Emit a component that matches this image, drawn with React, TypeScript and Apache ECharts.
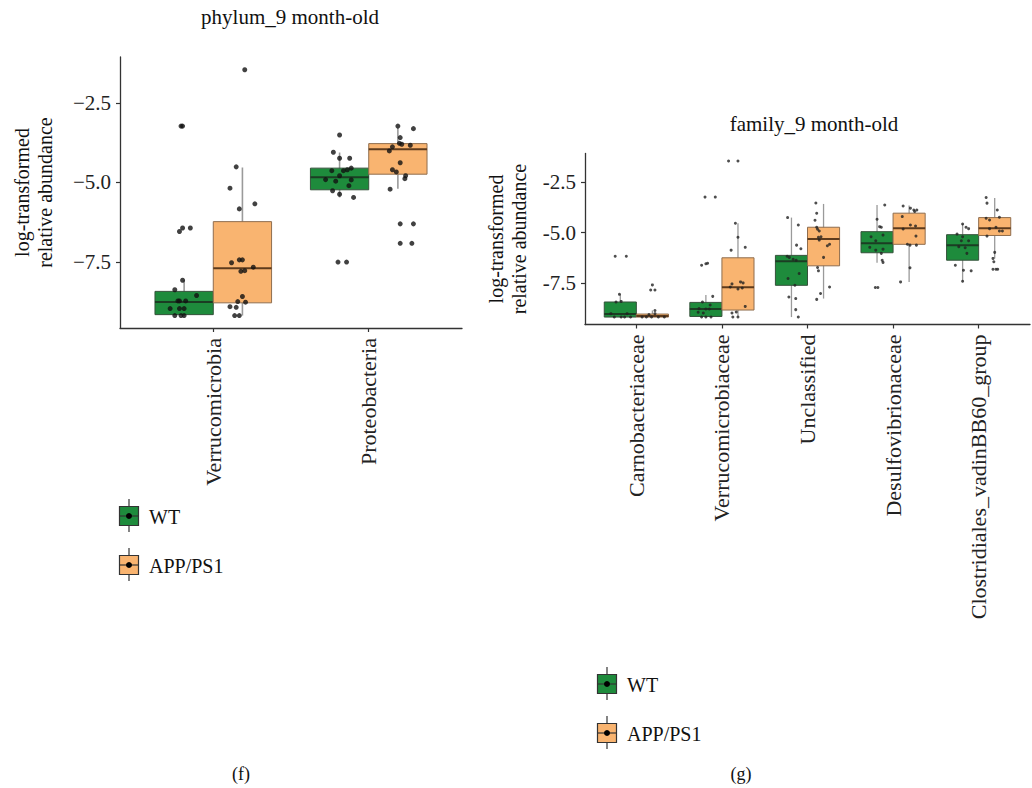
import React, { useEffect, useRef } from "react";
import * as echarts from "echarts";

// ---------- DATA ----------
const LEFT_TITLE = "phylum_9 month-old";
const RIGHT_TITLE = "family_9 month-old";
const Y_NAME = "log-transformed\nrelative abundance";
const GROUPS = ["WT", "APP/PS1"];

const LEFT_CATS = ["Verrucomicrobia", "Proteobacteria"];
const RIGHT_CATS = [
  "Carnobacteriaceae",
  "Verrucomicrobiaceae",
  "Unclassified",
  "Desulfovibrionaceae",
  "Clostridiales_vadinBB60_group",
];
const Y_TICKS = [-7.5, -5.0, -2.5];

// box stats: [low whisker, q1, median, q3, high whisker]
const LEFT_WT_BOX = [
  [-9.2, -9.15, -8.75, -8.42, -8.07],
  [-5.47, -5.23, -4.84, -4.55, -4.06],
];
const LEFT_APP_BOX = [
  [-9.18, -8.78, -7.69, -6.23, -4.53],
  [-5.2, -4.74, -3.96, -3.78, -3.28],
];
const RIGHT_WT_BOX = [
  [-9.2, -9.2, -9.05, -8.45, -8.07],
  [-9.2, -9.17, -8.8, -8.47, -8.1],
  [-9.2, -7.62, -6.42, -6.13, -4.25],
  [-6.5, -6.0, -5.53, -4.95, -3.62],
  [-7.42, -6.37, -5.62, -5.1, -4.57],
];
const RIGHT_APP_BOX = [
  [-9.2, -9.2, -9.15, -9.05, -8.87],
  [-9.18, -8.85, -7.72, -6.25, -4.53],
  [-8.28, -6.65, -5.32, -4.73, -3.57],
  [-7.45, -5.58, -4.78, -4.03, -3.65],
  [-6.28, -5.14, -4.78, -4.25, -3.28],
];

// jittered points: [offset within box, value]
const LEFT_WT_PTS = [
  [[-0.02, -3.23], [-0.01, -3.23], [-0.03, -6.54], [-0.01, -6.43], [0.04, -6.43], [-0.01, -8.07], [-0.06, -8.37], [0.08, -8.55], [-0.04, -8.72], [-0.03, -8.72], [0.01, -8.72], [-0.09, -8.96], [-0.03, -8.96], [0.0, -8.96], [-0.06, -9.18], [-0.02, -9.18], [0.0, -9.18]],
  [[0, -3.51], [-0.04, -4.05], [0, -4.24], [0.065, -4.24], [-0.05, -4.63], [0.025, -4.63], [0.05, -4.6], [0.075, -4.55], [-0.09, -4.91], [-0.025, -4.96], [0.075, -4.92], [0, -4.79], [0.06, -5.1], [-0.045, -5.26], [0, -5.37], [0.09, -5.47], [-0.01, -7.5], [0.045, -7.5]],
];
const LEFT_APP_PTS = [
  [[0.015, -1.46], [-0.04, -4.51], [-0.08, -5.18], [0.08, -5.67], [-0.02, -5.83], [-0.07, -7.52], [-0.02, -7.43], [0, -7.43], [0.07, -7.66], [-0.01, -7.79], [0.015, -7.77], [0, -8.58], [-0.03, -8.74], [0.02, -8.76], [-0.08, -8.9], [-0.04, -8.92], [-0.05, -9.18], [-0.02, -9.18]],
  [[0, -3.23], [0.1, -3.31], [0.015, -3.59], [0.01, -3.77], [0.025, -3.8], [-0.055, -4.01], [-0.035, -3.88], [0.08, -3.83], [0.015, -4.38], [-0.035, -4.6], [-0.01, -4.67], [0.05, -4.79], [0.045, -4.88], [-0.05, -5.21], [0.015, -6.3], [0.1, -6.3], [0.015, -6.91], [0.09, -6.91]],
];
const RIGHT_WT_PTS = [
  [[-0.06, -6.17], [0.07, -6.17], [-0.01, -8.07], [-0.05, -8.45], [0.01, -8.42], [-0.11, -9.03], [0.08, -9.03], [-0.07, -9.2], [0.01, -9.2], [0.05, -9.2], [0.12, -9.2]],
  [[-0.01, -3.23], [0.11, -3.23], [-0.05, -6.62], [0, -6.55], [0.02, -6.52], [0.08, -8.17], [-0.04, -8.45], [0.05, -8.6], [-0.08, -8.78], [0.0, -8.8], [0.04, -8.8], [-0.09, -8.96], [-0.03, -9.0], [-0.05, -9.2], [0.0, -9.2], [0.06, -9.2]],
  [[-0.045, -4.25], [0.08, -4.62], [0.06, -5.62], [0.11, -5.8], [-0.05, -6.17], [-0.025, -6.23], [0.02, -6.32], [0.055, -6.37], [-0.04, -7.28], [0.09, -7.03], [0.04, -7.62], [-0.03, -8.2], [0.05, -8.28], [0.05, -8.83], [0.08, -9.2]],
  [[0.09, -3.62], [0, -4.33], [0.03, -4.7], [0.05, -4.73], [-0.07, -5.2], [-0.015, -5.4], [0.07, -5.12], [-0.085, -5.73], [-0.015, -5.87], [0.07, -5.82], [0.05, -6.03], [0.06, -6.37], [0.07, -6.48], [-0.02, -7.73], [0.01, -7.73]],
  [[0, -4.57], [0.04, -4.73], [0.07, -4.8], [-0.065, -5.07], [0, -5.2], [-0.015, -5.4], [0.07, -5.4], [-0.045, -5.7], [0.03, -5.75], [0.05, -6.03], [-0.085, -6.62], [0.01, -6.87], [0.1, -6.9], [0, -7.42]],
];
const RIGHT_APP_PTS = [
  [[0, -7.6], [-0.02, -7.85], [0.03, -7.85], [0.03, -8.87], [0.03, -9.03], [-0.04, -9.07], [-0.12, -9.2], [-0.07, -9.2], [-0.01, -9.2], [0.07, -9.2], [0.14, -9.2]],
  [[-0.11, -1.43], [0, -1.43], [-0.03, -4.53], [0, -5.23], [-0.08, -5.87], [0.085, -5.73], [-0.07, -7.55], [0.03, -7.45], [0.06, -7.5], [-0.09, -7.7], [0.0, -7.8], [0.05, -7.75], [0.085, -8.67], [-0.07, -9.0], [-0.02, -8.95], [-0.06, -9.2], [0.0, -9.2]],
  [[-0.09, -3.52], [-0.08, -4.03], [-0.1, -4.38], [-0.08, -4.73], [-0.07, -4.83], [-0.05, -4.92], [-0.06, -5.23], [-0.05, -5.37], [-0.03, -5.2], [0.045, -5.65], [0.07, -5.58], [0, -6.23], [-0.07, -6.73], [-0.06, -6.9], [0.07, -7.7], [-0.035, -8.03], [-0.08, -8.32]],
  [[-0.07, -3.67], [0.015, -3.78], [0.055, -3.87], [0.065, -3.95], [0.09, -3.87], [-0.08, -4.2], [0.015, -4.62], [0.075, -4.67], [-0.07, -4.82], [0.08, -5.17], [-0.02, -5.58], [0.01, -5.62], [0.085, -5.62], [0.01, -6.75], [-0.1, -7.45]],
  [[-0.1, -3.25], [-0.09, -3.53], [0.03, -3.87], [-0.1, -4.28], [-0.06, -4.37], [0.055, -4.23], [-0.06, -4.8], [0.015, -4.73], [0.055, -4.92], [0.09, -4.92], [-0.09, -5.17], [0, -5.98], [-0.02, -6.28], [-0.01, -6.45], [-0.02, -6.82], [0.015, -6.82], [0.035, -6.82]],
];

// ---------- STYLE ----------
const FONT = "'Liberation Serif', 'Times New Roman', serif";
const GREEN = "#1e8b3c";
const ORANGE = "#f9b470";
const GREEN_BORDER = "#35523b";
const ORANGE_BORDER = "#8f6d4e";
const GREEN_MED = "#1b3d23";
const ORANGE_MED = "#5e3b1c";
const WHISKER = "#9a9a9a";
const AXIS = "#333333";
const BOX_W = 0.375;
const DODGE = 0.1875;

function boxRender(dodge: number, fill: string, border: string, med: string, whiskerW: number) {
  return (params: any, api: any) => {
    const c = api.value(0);
    const low = api.value(1), q1 = api.value(2), md = api.value(3), q3 = api.value(4), high = api.value(5);
    const xc = c + dodge;
    const tl = api.coord([xc - BOX_W / 2, q3]);
    const br = api.coord([xc + BOX_W / 2, q1]);
    const top = api.coord([xc, high]);
    const bot = api.coord([xc, low]);
    const my = api.coord([xc, md])[1];
    return {
      type: "group",
      children: [
        { type: "line", shape: { x1: top[0], y1: top[1], x2: bot[0], y2: bot[1] }, style: { stroke: WHISKER, lineWidth: whiskerW } },
        { type: "rect", shape: { x: tl[0], y: tl[1], width: br[0] - tl[0], height: br[1] - tl[1] }, style: { fill, stroke: border, lineWidth: 1 } },
        { type: "line", shape: { x1: tl[0], y1: my, x2: br[0], y2: my }, style: { stroke: med, lineWidth: 2 } },
      ],
    };
  };
}

function boxData(stats: number[][]) {
  return stats.map((s, i) => [i + 1, ...s]);
}
function ptsData(pts: number[][][], dodge: number) {
  const out: number[][] = [];
  pts.forEach((arr, i) => arr.forEach(([o, v]) => out.push([i + 1 + dodge + o, v])));
  return out;
}

function legendKey(cx: number, cy: number, fill: string, label: string) {
  return [
    { type: "line", shape: { x1: cx, y1: cy - 17, x2: cx, y2: cy + 16 }, style: { stroke: "#333", lineWidth: 1.2 } },
    { type: "rect", shape: { x: cx - 9.5, y: cy - 9.5, width: 19, height: 19 }, style: { fill, stroke: "#333", lineWidth: 1.2 } },
    { type: "line", shape: { x1: cx - 9.5, y1: cy, x2: cx + 9.5, y2: cy }, style: { stroke: "#333", lineWidth: 1.2 } },
    { type: "circle", shape: { cx, cy, r: 3 }, style: { fill: "#000" } },
    { type: "text", x: cx + 20, y: cy + 1, style: { text: label, font: `20px ${FONT}`, fill: "#111", verticalAlign: "middle", align: "left" } },
  ];
}

export default function App() {
  const ref = useRef<HTMLDivElement>(null);
  useEffect(() => {
    if (!ref.current) return;
    const chart = echarts.init(ref.current, null, { renderer: "svg" });
    const yAxisCommon = (minus: string, gap: number) => ({
      type: "value",
      min: -9.57,
      max: -1.06,
      name: Y_NAME,
      nameLocation: "middle",
      nameGap: gap,
      nameRotate: 90,
      nameTextStyle: { fontFamily: FONT, fontSize: 20, color: "#111", lineHeight: 23 },
      axisLine: { show: true, lineStyle: { color: AXIS, width: 1.3 } },
      axisTick: { show: true, length: 4, customValues: Y_TICKS, lineStyle: { color: AXIS, width: 1.2 } },
      axisLabel: {
        fontFamily: FONT,
        fontSize: 21,
        color: "#222",
        margin: 9,
        customValues: Y_TICKS,
        formatter: (v: number) => v.toFixed(1).replace("-", minus),
      },
      splitLine: { show: false },
    });
    const xAxisCommon = (cats: string[]) => ({
      type: "value",
      min: 0.4,
      max: cats.length + 0.6,
      axisLine: { show: true, lineStyle: { color: AXIS, width: 1.3 } },
      axisTick: { show: true, length: 4, customValues: cats.map((_, i) => i + 1), lineStyle: { color: AXIS, width: 1.2 } },
      axisLabel: {
        fontFamily: FONT,
        fontSize: 22,
        color: "#222",
        rotate: 90,
        margin: 10,
        customValues: cats.map((_, i) => i + 1),
        formatter: (v: number) => cats[Math.round(v) - 1] ?? "",
      },
      splitLine: { show: false },
    });

    const option: any = {
      animation: false,
      backgroundColor: "#ffffff",
      grid: [
        { left: 120, top: 57, width: 342, height: 271 },
        { left: 585, top: 153.5, width: 445, height: 171 },
      ],
      xAxis: [
        { ...xAxisCommon(LEFT_CATS), gridIndex: 0 },
        { ...xAxisCommon(RIGHT_CATS), gridIndex: 1 },
      ],
      yAxis: [
        { ...yAxisCommon("\u2212", 64), gridIndex: 0 },
        { ...yAxisCommon("-", 55), gridIndex: 1 },
      ],
      series: [
        { type: "custom", name: GROUPS[0], xAxisIndex: 0, yAxisIndex: 0, renderItem: boxRender(-DODGE, GREEN, GREEN_BORDER, GREEN_MED, 1.6), encode: { x: 0, y: [1, 2, 3, 4, 5] }, data: boxData(LEFT_WT_BOX), z: 2 },
        { type: "custom", name: GROUPS[1], xAxisIndex: 0, yAxisIndex: 0, renderItem: boxRender(DODGE, ORANGE, ORANGE_BORDER, ORANGE_MED, 1.6), encode: { x: 0, y: [1, 2, 3, 4, 5] }, data: boxData(LEFT_APP_BOX), z: 2 },
        { type: "custom", name: GROUPS[0], xAxisIndex: 1, yAxisIndex: 1, renderItem: boxRender(-DODGE, GREEN, GREEN_BORDER, GREEN_MED, 1.3), encode: { x: 0, y: [1, 2, 3, 4, 5] }, data: boxData(RIGHT_WT_BOX), z: 2 },
        { type: "custom", name: GROUPS[1], xAxisIndex: 1, yAxisIndex: 1, renderItem: boxRender(DODGE, ORANGE, ORANGE_BORDER, ORANGE_MED, 1.3), encode: { x: 0, y: [1, 2, 3, 4, 5] }, data: boxData(RIGHT_APP_BOX), z: 2 },
        { type: "scatter", xAxisIndex: 0, yAxisIndex: 0, symbolSize: 5, itemStyle: { color: "#111" }, data: ptsData(LEFT_WT_PTS, -DODGE), z: 5 },
        { type: "scatter", xAxisIndex: 0, yAxisIndex: 0, symbolSize: 5, itemStyle: { color: "#111" }, data: ptsData(LEFT_APP_PTS, DODGE), z: 5 },
        { type: "scatter", xAxisIndex: 1, yAxisIndex: 1, symbolSize: 3, itemStyle: { color: "#222" }, data: ptsData(RIGHT_WT_PTS, -DODGE), z: 5 },
        { type: "scatter", xAxisIndex: 1, yAxisIndex: 1, symbolSize: 3, itemStyle: { color: "#222" }, data: ptsData(RIGHT_APP_PTS, DODGE), z: 5 },
      ],
      graphic: [
        { type: "text", x: 290, y: 17, style: { text: LEFT_TITLE, font: `21px ${FONT}`, fill: "#111", align: "center", verticalAlign: "middle" } },
        { type: "text", x: 814, y: 124, style: { text: RIGHT_TITLE, font: `21px ${FONT}`, fill: "#111", align: "center", verticalAlign: "middle" } },
        ...legendKey(129, 516, GREEN, GROUPS[0]),
        ...legendKey(129, 565, ORANGE, GROUPS[1]),
        ...legendKey(607, 684, GREEN, GROUPS[0]),
        ...legendKey(607, 733, ORANGE, GROUPS[1]),
        { type: "text", x: 241, y: 774, style: { text: "(f)", font: `18px ${FONT}`, fill: "#111", align: "center", verticalAlign: "middle" } },
        { type: "text", x: 741, y: 774, style: { text: "(g)", font: `18px ${FONT}`, fill: "#111", align: "center", verticalAlign: "middle" } },
      ],
    };
    chart.setOption(option);
    return () => chart.dispose();
  }, []);
  return <div ref={ref} style={{ position: "fixed", left: 0, top: 0, width: 1032, height: 788 }} />;
}
